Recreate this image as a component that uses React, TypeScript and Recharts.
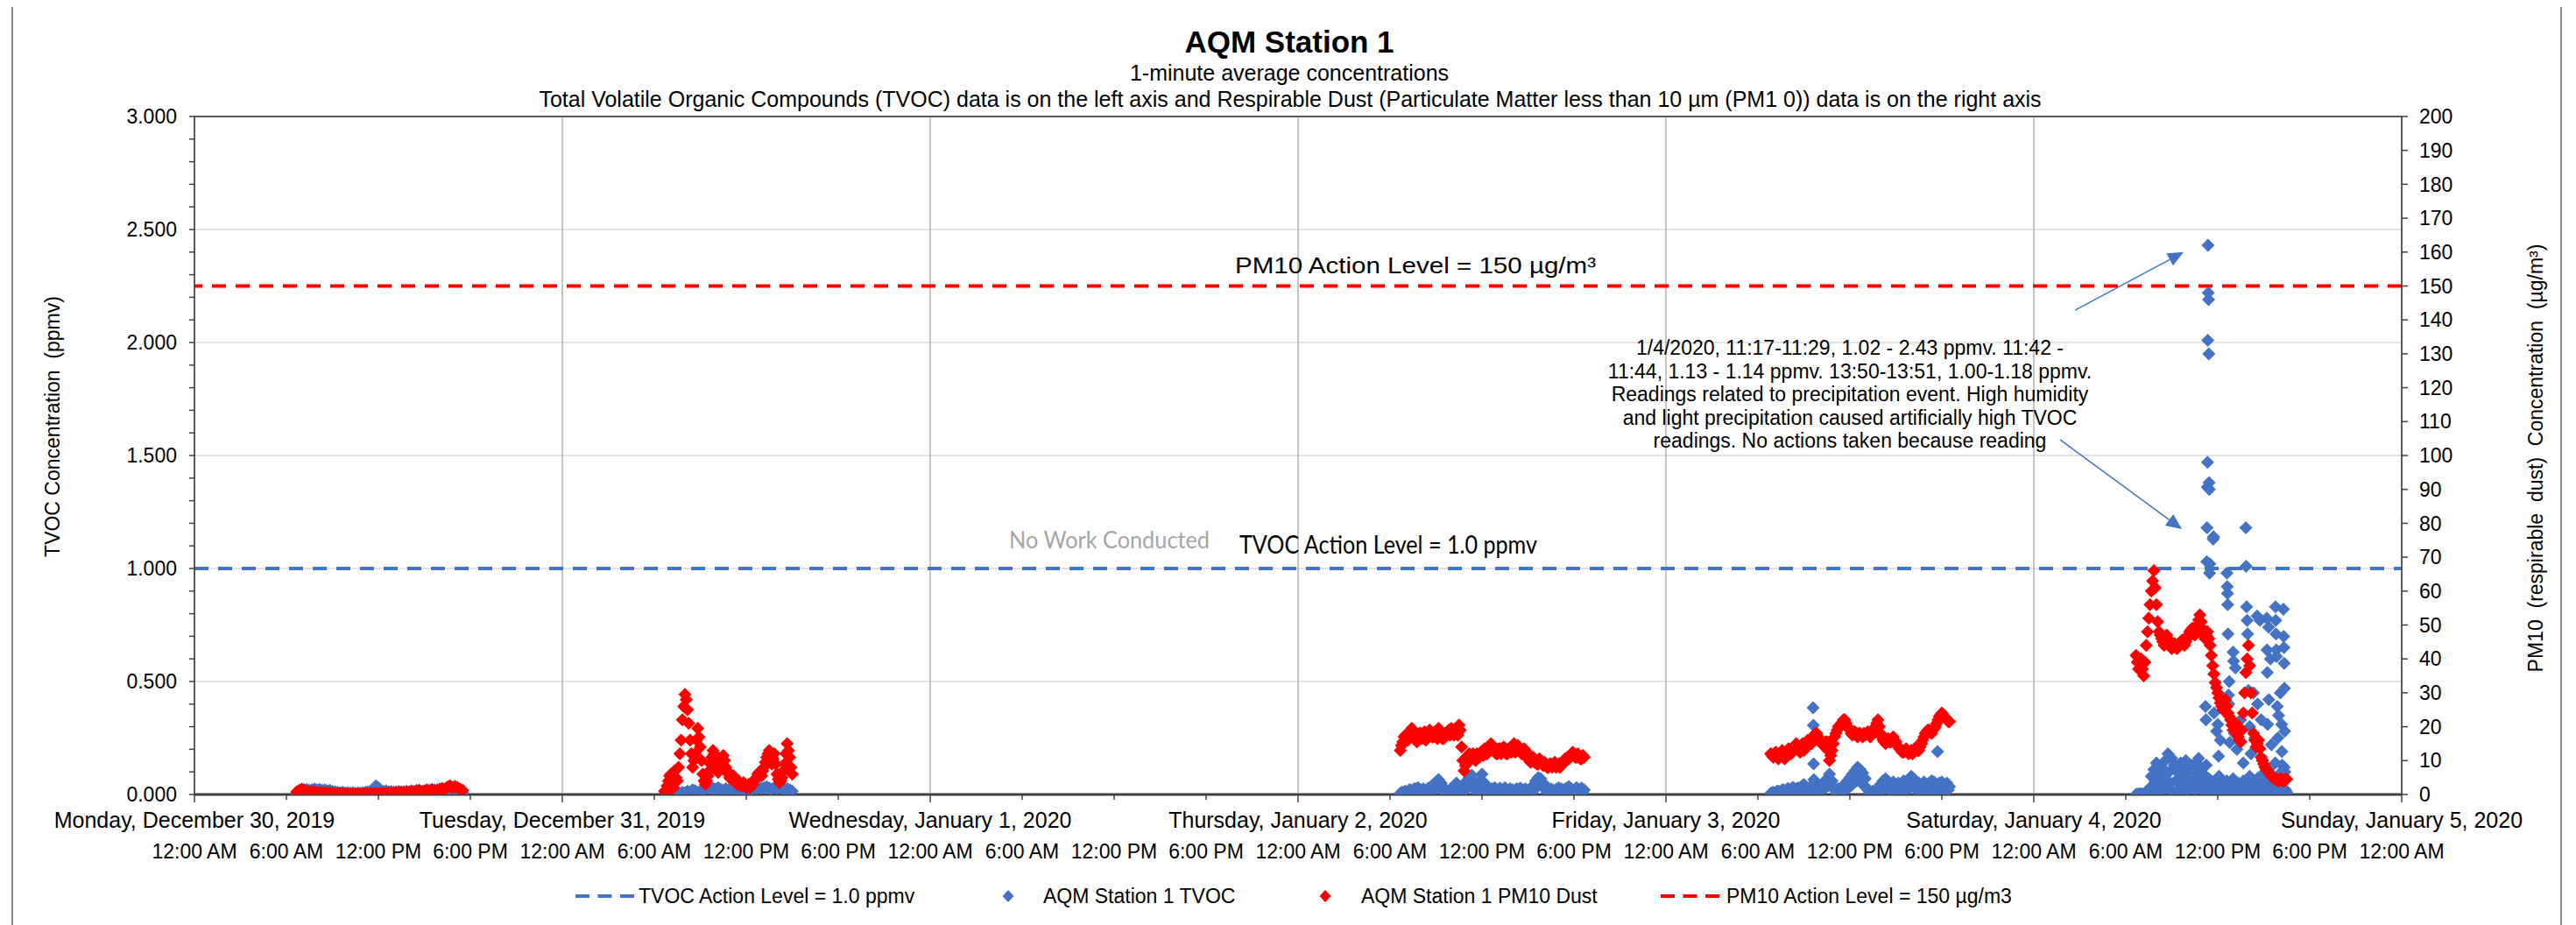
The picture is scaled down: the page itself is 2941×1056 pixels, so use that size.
import React from "react";
import { ScatterChart, Scatter, XAxis, YAxis, CartesianGrid, ReferenceLine } from "recharts";

const FONT = "'Liberation Sans', Arial, sans-serif";
const CALIBRI_LIKE = "Lato, 'Open Sans', sans-serif";
const BLUE = "#4472C4";
const RED = "#FF0000";

// axis labels
const dayLabels = [
  "Monday, December 30, 2019",
  "Tuesday, December 31, 2019",
  "Wednesday, January 1, 2020",
  "Thursday, January 2, 2020",
  "Friday, January 3, 2020",
  "Saturday, January 4, 2020",
  "Sunday, January 5, 2020",
];
const timeLabels = ["12:00 AM", "6:00 AM", "12:00 PM", "6:00 PM"];

// action levels
const tvocActionLevel = 1.0; // ppmv
const pm10ActionLevel = 150; // ug/m3

// TVOC readings (ppmv)
const dec30Tvoc = [ // 10 min
  0.005, 0.01, 0.015, 0.02, 0.022, 0.018, 0.02, 0.024, 0.02,
  0.022, 0.018, 0.02, 0.016, 0.018, 0.014, 0.012, 0.01, 0.008, 0.01, 0.006, 0.008,
  0.006, 0.008, 0.005, 0.007, 0.006, 0.008, 0.01, 0.012, 0.015, 0.022, 0.038, 0.03,
  0.018, 0.014, 0.016, 0.012, 0.014, 0.01, 0.012, 0.014, 0.01, 0.012, 0.014, 0.012,
  0.016, 0.014, 0.018, 0.015, 0.012, 0.016, 0.02, 0.018, 0.022, 0.016, 0.02, 0.024,
  0.02, 0.024, 0.018, 0.022, 0.026, 0.02, 0.016, 0.012, 0.008,
];
const dec31Tvoc = [ // 10 min
  0.005, 0.01, 0.008, 0.015, 0.012, 0.02, 0.016, 0.01, 0.014, 0.02,
  0.026, 0.03, 0.034, 0.028, 0.024, 0.03, 0.022, 0.018, 0.025, 0.02,
  0.016, 0.022, 0.018, 0.012, 0.016, 0.01, 0.014, 0.02, 0.024, 0.03,
  0.028, 0.032, 0.026, 0.03, 0.034, 0.028, 0.024, 0.03, 0.026, 0.032,
  0.028, 0.022, 0.026, 0.02, 0.015,
];
const jan2Tvoc = [ // 5 min
  0.005, 0.01, 0.005, 0.012,
  0.015, 0.005, 0.012, 0.02, 0.02, 0.01, 0.015, 0.025, 0.025, 0.01, 0.03, 0.015,
  0.02, 0.01, 0.025, 0.015, 0.018, 0.005, 0.028, 0.015, 0.035, 0.02, 0.045, 0.025,
  0.055, 0.03, 0.066, 0.04, 0.05, 0.02, 0.03, 0.01, 0.02, 0.005, 0.012, 0.02,
  0.025, 0.01, 0.04, 0.02, 0.05, 0.03, 0.03, 0.01, 0.015, 0.02, 0.04, 0.025,
  0.06, 0.03, 0.075, 0.04, 0.085, 0.05, 0.05, 0.02, 0.01, 0.03, 0.06, 0.04,
  0.09, 0.05, 0.05, 0.02, 0.02, 0.005, 0.01, 0.02, 0.025, 0.01, 0.03, 0.015,
  0.02, 0.005, 0.028, 0.015, 0.022, 0.01, 0.03, 0.015, 0.018, 0.005, 0.025, 0.012,
  0.02, 0.008, 0.015, 0.025, 0.022, 0.01, 0.028, 0.015, 0.02, 0.008, 0.025, 0.012,
  0.018, 0.005, 0.025, 0.015, 0.04, 0.02, 0.06, 0.035, 0.075, 0.045, 0.07, 0.04,
  0.05, 0.025, 0.03, 0.01, 0.02, 0.008, 0.025, 0.012, 0.018, 0.005, 0.022, 0.01,
  0.03, 0.015, 0.025, 0.01, 0.02, 0.008, 0.028, 0.012, 0.035, 0.015, 0.025, 0.01,
  0.018, 0.005, 0.03, 0.015, 0.022, 0.01, 0.028, 0.012, 0.02,
];
const jan3Tvoc = [ // 5 min
  0.005, 0.008,
  0.01, 0.005, 0.008, 0.015, 0.015, 0.005, 0.012, 0.02, 0.02, 0.008, 0.015, 0.025,
  0.025, 0.01, 0.018, 0.03, 0.03, 0.012, 0.022, 0.028, 0.028, 0.01, 0.035, 0.02,
  0.045, 0.02, 0.03, 0.01, 0.02, 0.035, 0.035, 0.015, 0.025, 0.03, 0.03, 0.01,
  0.04, 0.02, 0.025, 0.05, 0.05, 0.03, 0.07, 0.04, 0.09, 0.05, 0.06, 0.03,
  0.02, 0.005, 0.012, 0.025, 0.025, 0.01, 0.035, 0.02, 0.045, 0.025, 0.06, 0.03,
  0.075, 0.04, 0.09, 0.05, 0.105, 0.06, 0.12, 0.07, 0.11, 0.05, 0.095, 0.04,
  0.07, 0.03, 0.02, 0.005, 0.01, 0.005, 0.015, 0.005, 0.01, 0.02, 0.03, 0.01,
  0.045, 0.02, 0.06, 0.03, 0.07, 0.035, 0.05, 0.02, 0.04, 0.015, 0.055, 0.025,
  0.045, 0.02, 0.05, 0.025, 0.04, 0.015, 0.06, 0.03, 0.055, 0.02, 0.065, 0.03,
  0.08, 0.04, 0.07, 0.03, 0.045, 0.015, 0.05, 0.02, 0.04, 0.015, 0.055, 0.025,
  0.045, 0.015, 0.05, 0.02, 0.06, 0.03, 0.055, 0.02, 0.04, 0.015, 0.05, 0.02,
  0.055, 0.025, 0.04, 0.015, 0.05, 0.02, 0.035,
];
const jan3TvocSpikes: [string, number][] = [
  ["09:36", 0.384], ["09:37", 0.306], ["09:38", 0.136], ["09:39", 0.066], ["17:43", 0.19],
];
const jan4Tvoc = [ // 5 min
  0.0, 0.002, 0.0, 0.004, 0.001, 0.003, 0.0, 0.005, 0.002, 0.004,
  0.01, 0.03, 0.08, 0.02, 0.11, 0.06, 0.14, 0.01, 0.09, 0.04, 0.12, 0.02,
  0.07, 0.15, 0.03, 0.18, 0.1, 0.05, 0.16, 0.01, 0.13, 0.06, 0.11, 0.02,
  0.09, 0.14, 0.04, 0.12, 0.01, 0.15, 0.07, 0.1, 0.03, 0.13, 0.05, 0.11,
  0.02, 0.14, 0.08, 0.16, 0.03, 0.12, 0.06, 0.09, 0.01, 0.13, 0.04, 0.07,
  0.02, 0.06, 0.01, 0.03, 0.0, 0.05, 0.02, 0.08, 0.01, 0.04, 0.0, 0.03,
  0.01, 0.06, 0.02, 0.0, 0.04, 0.01, 0.07, 0.02, 0.03, 0.0, 0.05, 0.01,
  0.03, 0.0, 0.06, 0.02, 0.01, 0.04, 0.0, 0.08, 0.02, 0.05, 0.01, 0.03,
  0.0, 0.07, 0.02, 0.04, 0.01, 0.09, 0.03, 0.0, 0.06, 0.02, 0.11, 0.04,
  0.01, 0.08, 0.03, 0.14, 0.05, 0.02, 0.09, 0.0, 0.06, 0.03, 0.12, 0.02,
  0.01,
];
const jan4TvocSpikes: [string, number][] = [
  ["11:12", 0.39], ["11:14", 0.33],
  ["11:17", 1.03], ["11:18", 1.18], ["11:19", 1.36], ["11:20", 1.47], ["11:21", 2.01], ["11:22", 2.43],
  ["11:23", 2.22], ["11:24", 2.19], ["11:25", 1.95], ["11:26", 1.38], ["11:27", 1.35], ["11:28", 0.98], ["11:29", 1.02],
  ["11:42", 1.13], ["11:43", 1.14], ["11:44", 1.14],
  ["11:45", 0.36], ["11:55", 0.28], ["12:00", 0.31], ["12:03", 0.17], ["12:10", 0.24],
  ["12:36", 0.98], ["12:37", 0.92], ["12:38", 0.89], ["12:39", 0.84], ["12:40", 0.71], ["12:42", 0.44],
  ["12:43", 0.4], ["12:45", 0.5], ["12:47", 0.23],
  ["13:00", 0.63], ["13:02", 0.59], ["13:05", 0.27], ["13:09", 0.56], ["13:15", 0.2], ["13:30", 0.33], ["13:40", 0.14],
  ["13:50", 1.18], ["13:51", 1.01], ["13:53", 0.83], ["13:55", 0.77], ["13:57", 0.71], ["14:00", 0.46], ["14:05", 0.3], ["14:10", 0.18],
  ["14:20", 0.45], ["14:25", 0.25], ["14:34", 0.79], ["14:36", 0.4], ["14:45", 0.77], ["14:50", 0.33], ["14:55", 0.15],
  ["15:12", 0.78], ["15:13", 0.64], ["15:14", 0.54], ["15:15", 0.31], ["15:19", 0.74], ["15:20", 0.42], ["15:26", 0.6], ["15:30", 0.22],
  ["15:46", 0.83], ["15:47", 0.77], ["15:48", 0.71], ["15:49", 0.64], ["15:50", 0.61], ["15:53", 0.39], ["15:55", 0.25], ["15:58", 0.35],
  ["16:03", 0.03], ["16:05", 0.45], ["16:10", 0.31], ["16:11", 0.19], ["16:12", 0.13],
  ["16:17", 0.82], ["16:18", 0.7], ["16:19", 0.65], ["16:20", 0.58], ["16:21", 0.47], ["16:22", 0.28], ["16:23", 0.1],
];

// PM10 readings (ug/m3)
const dec30Dust = [ // 10 min
  0.8, 1.2, 1.6, 1.3, 1.0, 0.8, 0.9, 0.7, 0.6,
  0.5, 0.6, 0.4, 0.5, 0.3, 0.4, 0.3, 0.2, 0.3, 0.2, 0.3, 0.2,
  0.2, 0.1, 0.2, 0.2, 0.1, 0.2, 0.3, 0.2, 0.2, 0.3, 0.2, 0.3,
  0.3, 0.4, 0.3, 0.5, 0.4, 0.5, 0.6, 0.5, 0.7, 0.6, 0.8, 0.7,
  0.9, 0.8, 1.0, 1.2, 0.9, 1.1, 1.3, 1.0, 1.4, 1.2, 1.1, 1.5,
  1.8, 1.4, 2.2, 2.6, 1.9, 2.4, 2.0, 1.6, 1.2,
];
const dec31Dust = [ // 5 min
  1.0, 0.5, 2.5, 4.0,
  5.5, 6.0, 3.0, 2.0, 7.0, 5.0, 4.0, 8.0, 12.0, 16.0, 22.0, 26.0,
  29.5, 28.0, 25.0, 21.0, 16.0, 12.0, 8.0, 10.0, 12.0, 16.0, 19.5, 17.0,
  14.0, 10.0, 6.0, 4.0, 3.0, 4.0, 5.5, 7.0, 9.0, 11.0, 13.0, 12.0,
  10.0, 8.0, 6.5, 8.0, 9.5, 10.5, 11.5, 10.0, 8.0, 7.0, 6.0, 5.0,
  4.5, 5.0, 5.5, 4.5, 3.5, 3.0, 4.0, 3.0, 2.5, 3.0, 3.5, 2.5,
  2.0, 2.5, 3.0, 2.0, 2.5, 3.0, 4.0, 4.5, 5.0, 6.0, 6.5, 6.0,
  5.5, 7.0, 8.0, 9.5, 11.0, 12.0, 13.0, 11.0, 9.0, 10.5, 12.0, 9.0,
  6.0, 4.5, 3.5, 4.0, 5.0, 7.0, 9.0, 12.0, 15.0, 13.0, 11.0, 8.0,
  6.0,
];
const jan2Dust = [ // 5 min
  13.0, 14.5, 15.5, 17.0,
  17.5, 16.0, 16.0, 17.5, 18.0, 19.5, 19.0, 17.5, 17.0, 15.5, 16.5, 18.0,
  18.0, 16.5, 17.5, 18.5, 16.0, 17.0, 17.5, 19.0, 18.5, 17.0, 17.0, 18.5,
  18.0, 16.5, 19.5, 18.0, 18.0, 16.5, 16.5, 18.0, 17.5, 18.5, 19.0, 17.5,
  19.5, 18.0, 17.5, 19.0, 19.0, 17.5, 20.5, 19.0, 14.0, 10.0, 7.0, 8.5,
  10.0, 11.5, 12.0, 10.5, 10.5, 12.0, 11.5, 10.0, 12.0, 11.5, 11.0, 12.5,
  12.5, 11.5, 13.5, 12.0, 12.0, 13.5, 14.0, 15.0, 14.5, 13.0, 13.0, 12.0,
  12.0, 13.5, 13.5, 12.0, 12.5, 14.0, 13.0, 12.0, 12.0, 13.5, 13.5, 12.5,
  14.0, 15.0, 12.5, 14.0, 14.5, 13.0, 13.5, 12.0, 12.0, 13.5, 13.0, 11.5,
  11.0, 10.0, 9.5, 11.0, 11.0, 9.5, 10.0, 9.0, 9.0, 10.5, 10.0, 9.0,
  8.5, 9.5, 9.0, 8.0, 8.0, 9.0, 9.0, 8.0, 8.5, 9.5, 8.0, 8.5,
  9.0, 8.0, 8.5, 9.5, 9.5, 10.5, 10.0, 11.0, 10.5, 11.5, 11.5, 12.5,
  12.0, 11.0, 11.0, 12.0, 11.5, 10.5, 10.5, 11.5, 11.0,
];
const jan3Dust = [ // 5 min
  12.0, 11.5,
  11.0, 12.0, 12.5, 11.0, 10.5, 11.5, 12.0, 13.0, 11.0, 10.5, 12.5, 12.0,
  13.5, 12.5, 12.0, 13.0, 14.0, 14.5, 15.0, 14.0, 13.5, 12.5, 14.5, 15.0,
  13.0, 14.0, 15.0, 16.0, 16.0, 15.0, 15.0, 16.5, 17.0, 18.0, 18.0, 17.0,
  16.5, 15.5, 15.5, 14.5, 14.5, 15.5, 15.5, 13.0, 10.0, 11.5, 13.0, 15.0,
  17.0, 18.0, 19.0, 20.0, 20.0, 21.0, 21.0, 22.0, 22.0, 21.0, 20.0, 19.5,
  19.0, 18.0, 17.5, 18.5, 18.5, 17.5, 17.0, 18.0, 18.0, 17.5, 17.0, 18.0,
  17.5, 18.0, 18.5, 17.5, 17.0, 18.0, 18.0, 19.0, 20.0, 21.0, 22.0, 20.0,
  18.0, 17.0, 16.0, 15.5, 15.0, 16.0, 16.5, 15.5, 15.5, 16.5, 17.0, 16.0,
  15.5, 14.5, 14.0, 13.5, 13.0, 12.5, 12.5, 13.0, 13.5, 12.5, 12.0, 12.5,
  13.0, 12.0, 12.5, 13.5, 14.0, 13.0, 13.0, 14.0, 15.0, 16.0, 17.0, 18.0,
  18.5, 19.0, 19.0, 18.5, 18.0, 19.0, 19.5, 20.0, 21.0, 22.0, 23.0, 23.5,
  24.0, 23.5, 23.0, 22.5, 22.0, 21.5, 21.5,
];
const jan4Dust = [ // 5 min
  41.0, 39.0, 37.0, 38.5,
  40.0, 37.0, 35.0, 39.0, 44.0, 48.0, 52.0, 56.0, 60.0, 63.0, 66.0, 61.0,
  56.0, 51.0, 48.0, 47.0, 46.0, 45.0, 44.0, 45.5, 47.0, 46.0, 45.0, 44.0,
  43.0, 44.0, 44.5, 43.5, 43.0, 43.5, 44.0, 45.0, 45.5, 45.0, 44.0, 45.0,
  46.0, 47.0, 48.0, 48.5, 49.0, 48.0, 47.0, 48.5, 50.0, 51.5, 53.0, 51.0,
  49.0, 47.0, 46.0, 47.0, 48.0, 46.0, 44.0, 41.0, 38.0, 35.5, 33.0, 31.5,
  30.0, 28.5, 27.0, 26.0, 25.0, 26.5, 28.0, 26.0, 24.0, 23.0, 22.0, 20.5,
  19.0, 20.0, 21.0, 19.0, 17.0, 16.0, 15.5, 19.0, 24.0, 30.0, 36.0, 40.0,
  44.0, 38.0, 30.0, 24.0, 18.0, 16.0, 14.0, 15.0, 16.0, 13.5, 11.0, 10.0,
  9.0, 8.0, 7.5, 7.0, 6.5, 6.0, 5.5, 5.0, 5.0, 4.5, 4.5, 4.0,
  4.0, 4.5, 4.5, 4.0, 4.0, 4.5, 4.5,
];

// sampling runs: day index from Monday, first sample time, minutes between samples
const tvocRuns = [
  { day: 0, start: "06:40", step: 10, values: dec30Tvoc },
  { day: 1, start: "07:40", step: 10, values: dec31Tvoc },
  { day: 3, start: "06:40", step: 5, values: jan2Tvoc },
  { day: 4, start: "06:50", step: 5, values: jan3Tvoc },
  { day: 5, start: "06:40", step: 5, values: jan4Tvoc },
];
const dustRuns = [
  { day: 0, start: "06:40", step: 10, values: dec30Dust },
  { day: 1, start: "06:40", step: 5, values: dec31Dust },
  { day: 3, start: "06:40", step: 5, values: jan2Dust },
  { day: 4, start: "06:50", step: 5, values: jan3Dust },
  { day: 5, start: "06:40", step: 5, values: jan4Dust },
];

const toHours = (hhmm: string) => {
  const [h, m] = hhmm.split(":").map(Number);
  return h + m / 60;
};

const fromRuns = (runs: { day: number; start: string; step: number; values: number[] }[]) =>
  runs.flatMap((r) =>
    r.values.map((v, i) => ({ x: r.day * 24 + toHours(r.start) + (i * r.step) / 60, y: v }))
  );
const fromPairs = (day: number, pairs: [string, number][]) =>
  pairs.map(([t, v]) => ({ x: day * 24 + toHours(t), y: v }));

const tvocData = [...fromRuns(tvocRuns), ...fromPairs(4, jan3TvocSpikes), ...fromPairs(5, jan4TvocSpikes)];
const dustData = fromRuns(dustRuns);

const xTicks = Array.from({ length: 25 }, (_, i) => i * 6);
const leftTicks = Array.from({ length: 31 }, (_, i) => i / 10);
const rightTicks = Array.from({ length: 21 }, (_, i) => i * 10);

const Diamond = (props: any) => {
  const { cx, cy, fill } = props;
  if (cx == null || cy == null) return null;
  return (
    <polygon
      points={`${cx},${cy - 7.5} ${cx + 7.5},${cy} ${cx},${cy + 7.5} ${cx - 7.5},${cy}`}
      fill={fill}
    />
  );
};

const Arrow = (props: any) => {
  const { x1, y1, x2, y2 } = props;
  if ([x1, y1, x2, y2].some((v) => v == null || isNaN(v))) return null;
  const len = Math.hypot(x2 - x1, y2 - y1);
  const ux = (x2 - x1) / len;
  const uy = (y2 - y1) / len;
  const bx = x2 - ux * 18;
  const by = y2 - uy * 18;
  const px = -uy * 8;
  const py = ux * 8;
  return (
    <g>
      <line x1={x1} y1={y1} x2={bx} y2={by} stroke={BLUE} strokeWidth={1.5} />
      <polygon points={`${x2},${y2} ${bx + px},${by + py} ${bx - px},${by - py}`} fill={BLUE} />
    </g>
  );
};

const XTick = (props: any) => {
  const { x, y, payload } = props;
  const h = payload.value;
  const isDay = h % 24 === 0;
  return (
    <g>
      <line x1={x} x2={x} y1={y} y2={y + (isDay ? 9 : 6)} stroke="#404040" strokeWidth={1.5} />
      {isDay && (
        <text x={x} y={y + 38} textAnchor="middle" fontSize={25} fontFamily={FONT} fill="#000">
          {dayLabels[h / 24]}
        </text>
      )}
      <text x={x} y={y + 73} textAnchor="middle" fontSize={23} fontFamily={FONT} fill="#000">
        {timeLabels[(h % 24) / 6]}
      </text>
    </g>
  );
};

const tickStyle = { fontSize: 23, fontFamily: FONT, fill: "#000" };

export default function App() {
  return (
    <div style={{ position: "relative", width: 2933, height: 1048, background: "#fff" }}>
      <ScatterChart
        width={2933}
        height={1048}
        margin={{ top: 125, right: 109, bottom: 49, left: 94 }}
      >
        <CartesianGrid
          yAxisId="left"
          vertical={false}
          horizontalValues={[0.5, 1, 1.5, 2, 2.5]}
          stroke="#d9d9d9"
          strokeWidth={1.5}
        />
        <CartesianGrid
          yAxisId="left"
          horizontal={false}
          verticalValues={[24, 48, 72, 96, 120]}
          stroke="#a6a6a6"
          strokeWidth={1.3}
        />
        <XAxis
          dataKey="x"
          type="number"
          domain={[0, 144]}
          ticks={xTicks}
          interval={0}
          allowDataOverflow
          height={100}
          tick={<XTick />}
          tickLine={false}
          tickSize={0}
          tickMargin={0}
          axisLine={{ stroke: "#404040", strokeWidth: 3 }}
        />
        <YAxis
          yAxisId="left"
          dataKey="y"
          type="number"
          domain={[0, 3]}
          ticks={leftTicks}
          interval={0}
          allowDataOverflow
          width={120}
          tickFormatter={(v: number) => (Math.round(v * 10) % 5 === 0 ? v.toFixed(3) : "")}
          tick={tickStyle}
          tickSize={6}
          tickMargin={14}
          tickLine={{ stroke: "#404040", strokeWidth: 1.5 }}
          axisLine={{ stroke: "#404040", strokeWidth: 1.7 }}
        />
        <YAxis
          yAxisId="right"
          orientation="right"
          dataKey="y"
          type="number"
          domain={[0, 200]}
          ticks={rightTicks}
          interval={0}
          allowDataOverflow
          width={90}
          tick={tickStyle}
          tickSize={7}
          tickMargin={13}
          tickLine={{ stroke: "#404040", strokeWidth: 1.5 }}
          axisLine={{ stroke: "#404040", strokeWidth: 1.7 }}
        />
        <ReferenceLine yAxisId="left" y={3} stroke="#262626" strokeWidth={1.7} />
        <Scatter
          name="AQM Station 1 TVOC"
          yAxisId="left"
          data={tvocData}
          fill={BLUE}
          shape={<Diamond />}
          isAnimationActive={false}
        />
        <Scatter
          name="AQM Station 1 PM10 Dust"
          yAxisId="right"
          data={dustData}
          fill={RED}
          shape={<Diamond />}
          isAnimationActive={false}
        />
        <ReferenceLine
          yAxisId="left"
          y={tvocActionLevel}
          stroke={BLUE}
          strokeWidth={4}
          strokeDasharray="16 11"
        />
        <ReferenceLine
          yAxisId="right"
          y={pm10ActionLevel}
          stroke={RED}
          strokeWidth={4}
          strokeDasharray="16 11"
        />
        <ReferenceLine
          yAxisId="left"
          segment={[{ x: 122.69, y: 2.143 }, { x: 129.77, y: 2.4 }]}
          shape={<Arrow />}
        />
        <ReferenceLine
          yAxisId="left"
          segment={[{ x: 121.71, y: 1.57 }, { x: 129.66, y: 1.174 }]}
          shape={<Arrow />}
        />
      </ScatterChart>

      <svg
        width={2941}
        height={1056}
        style={{ position: "absolute", left: -8, top: -8, pointerEvents: "none" }}
      >
        <rect x={14} y={6} width={2910} height={1070} fill="none" stroke="#8c8c8c" strokeWidth={2} />
        <g fontFamily={FONT} fill="#000" textAnchor="middle">
          <text x={1472} y={60} fontSize={35} fontWeight="bold">AQM Station 1</text>
          <text x={1472} y={92} fontSize={25}>1-minute average concentrations</text>
          <text x={1473} y={122} fontSize={25}>
            Total Volatile Organic Compounds (TVOC) data is on the left axis and Respirable Dust (Particulate Matter less than 10 µm (PM1 0)) data is on the right axis
          </text>
          <text
            x={68}
            y={487}
            fontSize={23}
            transform="rotate(-90, 68, 487)"
            style={{ whiteSpace: "pre" }}
          >
            {"TVOC Concentration  (ppmv)"}
          </text>
          <text
            x={2903}
            y={523}
            fontSize={23}
            transform="rotate(-90, 2903, 523)"
            style={{ whiteSpace: "pre" }}
          >
            {"PM10  (respirable  dust)  Concentration  (µg/m³)"}
          </text>
          <text fontSize={23}>
            <tspan x={2112} y={405}>1/4/2020, 11:17-11:29, 1.02 - 2.43 ppmv. 11:42 -</tspan>
            <tspan x={2112} y={431.5}>11:44, 1.13 - 1.14 ppmv. 13:50-13:51, 1.00-1.18 ppmv.</tspan>
            <tspan x={2112} y={458}>Readings related to precipitation event. High humidity</tspan>
            <tspan x={2112} y={484.5}>and light precipitation caused artificially high TVOC</tspan>
            <tspan x={2112} y={511}>readings. No actions taken because reading</tspan>
          </text>
        </g>
        <text x={1410} y={312} fontSize={25} fontFamily={FONT} fill="#000" textLength={412} lengthAdjust="spacingAndGlyphs">
          PM10 Action Level = 150 µg/m³
        </text>
        <text x={1152} y={626} fontSize={26} fontFamily={CALIBRI_LIKE} fill="#a6a6a6" textLength={229} lengthAdjust="spacingAndGlyphs">
          No Work Conducted
        </text>
        <text x={1415} y={632} fontSize={28} fontFamily={CALIBRI_LIKE} fill="#000" textLength={340} lengthAdjust="spacingAndGlyphs">
          TVOC Action Level = 1.0 ppmv
        </text>

        {/* legend */}
        <g fontFamily={FONT} fontSize={23} fill="#000">
          <line x1={657} x2={724} y1={1023} y2={1023} stroke={BLUE} strokeWidth={4} strokeDasharray="16 9.5" />
          <text x={729} y={1031}>TVOC Action Level = 1.0 ppmv</text>
          <polygon points="1151,1016 1157.5,1023 1151,1030 1144.5,1023" fill={BLUE} />
          <text x={1191} y={1031}>AQM Station 1 TVOC</text>
          <polygon points="1513,1016 1519.5,1023 1513,1030 1506.5,1023" fill={RED} />
          <text x={1554} y={1031}>AQM Station 1 PM10 Dust</text>
          <line x1={1896} x2={1963} y1={1023} y2={1023} stroke={RED} strokeWidth={4} strokeDasharray="16 9.5" />
          <text x={1971} y={1031}>PM10 Action Level = 150 µg/m3</text>
        </g>
      </svg>
    </div>
  );
}
